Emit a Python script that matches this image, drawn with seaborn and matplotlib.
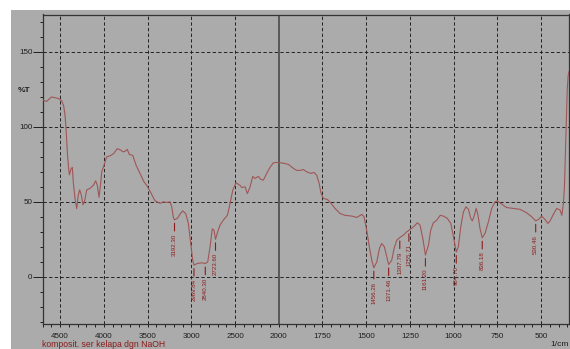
import numpy as np
import pandas as pd
import matplotlib
matplotlib.use("Agg")
import matplotlib.pyplot as plt
from matplotlib.patches import Rectangle
import seaborn as sns

# FTIR spectrum: wavenumber (1/cm) and transmittance (%T)
wavenumber = [
    4700, 4654, 4620, 4597, 4560, 4522, 4483, 4460, 4445, 4433, 4418, 4405,
    4395, 4376, 4361, 4350, 4330, 4311, 4293, 4277, 4258, 4239, 4219, 4196,
    4159, 4121, 4094, 4075, 4056, 4036, 4025, 4007, 3968, 3930, 3892, 3846,
    3808, 3778, 3750, 3732, 3709, 3670, 3632, 3587, 3541, 3510, 3472, 3415,
    3358, 3320, 3281, 3244, 3224, 3205, 3192.30, 3160, 3129, 3098, 3064, 3034,
    3007, 2984, 2969.84, 2931, 2881, 2860, 2840.30, 2812, 2786, 2760, 2740,
    2723.60, 2698, 2672, 2634, 2588, 2565, 2526, 2489, 2443, 2423, 2400, 2385,
    2359, 2328, 2297, 2271, 2233, 2206, 2176, 2137, 2100, 2062, 2030, 2005,
    1974, 1945, 1916, 1897, 1874, 1859, 1840, 1817, 1798, 1783, 1769, 1758,
    1745, 1722, 1703, 1678, 1649, 1621, 1582, 1554, 1525, 1512, 1497, 1482,
    1468, 1456.26, 1439, 1424, 1411, 1396, 1382, 1371.46, 1354, 1340, 1325,
    1307.79, 1287, 1268, 1255.71, 1230, 1207, 1192, 1176, 1161.20, 1144, 1131,
    1116, 1096, 1077, 1058, 1036, 1016, 1001, 984.70, 973, 959, 944, 929, 915,
    902, 893, 881, 871, 862, 849, 836.18, 820, 801, 782, 763, 750, 725, 697,
    658, 620, 582, 553, 530.46, 515, 496, 477, 461, 448, 429, 410, 391, 381,
    372, 366, 360, 355, 350, 345, 340,
]
transmittance = [
    118, 117, 119, 120, 119.5, 119, 117.5, 114, 108, 99, 83, 73,
    68, 72, 73, 63, 52, 45.5, 54.5, 58, 54.5, 48, 51, 58,
    59, 61, 64, 61, 53, 63, 70, 73, 80, 80.7, 82, 85.5,
    84.5, 83.3, 84, 85, 81.6, 81, 74.5, 69, 63.3, 61, 57, 50.7,
    49, 50, 49.6, 50, 46.7, 39.5, 38, 39, 41.8, 44, 42.2, 35.6,
    22.2, 11, 7.8, 8.9, 9.3, 9.2, 8.8, 10, 20, 32, 31,
    25, 30, 34.5, 37.8, 41, 46.7, 57.8, 62.7, 61, 59.6, 59.8, 60,
    55.5, 60, 67, 65.6, 67, 65, 64.5, 69, 73, 76, 76.3, 76.2,
    75.8, 75, 72.3, 71, 71, 71.6, 70, 69, 69.6, 67.8, 62.3, 55.6,
    52.3, 51.6, 49.3, 45.6, 42.2, 41, 40.5, 39.6, 41.6, 40, 31, 20,
    11, 6, 10, 19, 22.2, 20, 13.3, 8.2, 11, 19, 24.4,
    26.2, 27.8, 30, 31, 33.3, 36, 34.5, 25.6, 14.5, 21, 31,
    36, 37.8, 41, 40.5, 39, 35.6, 26.7, 16.5, 20, 33.3, 43.3, 46.7, 45,
    39, 37.3, 41, 45.6, 42.2, 32.2, 26, 29, 36.7, 45.6, 50, 50.7, 48.5, 46.2,
    45.6, 45, 42.7, 40, 37.3, 38.2, 40.5, 38.2, 35.6, 37.3, 41.8, 45.6, 44.5, 41,
    49, 60, 85, 105, 125, 134, 137,
]

# Peak annotations
peak_labels = ["3192.30", "2969.84", "2840.30", "2723.60", "1456.26", "1371.46",
               "1307.79", "1255.71", "1161.20", "984.70", "836.18", "530.46"]
peak_positions = [3192.30, 2969.84, 2840.30, 2723.60, 1456.26, 1371.46,
                  1307.79, 1255.71, 1161.20, 984.70, 836.18, 530.46]

x_ticks = [4500, 4000, 3500, 3000, 2500, 2000, 1750, 1500, 1250, 1000, 750, 500]
x_tick_labels = ["4500", "4000", "3500", "3000", "2500", "2000",
                 "1750", "1500", "1250", "1000", "750", "500"]
y_ticks = [150, 100, 50, 0]
y_tick_labels = ["150", "100", "50", "0"]

sample_name = "komposit. ser kelapa dgn NaOH"

BG = "#ababab"
LINE = "#a05656"
LABEL_RED = "#8c1c1c"
DARK = "#1e1e1e"

plt.rcParams["font.family"] = ["Liberation Sans", "DejaVu Sans"]


# Below 2000 1/cm the wavenumber axis is stretched by a factor of two
def fwd(x):
    x = np.asarray(x, dtype=float)
    return np.where(x >= 2000, x, 2 * x - 2000)


def inv(u):
    u = np.asarray(u, dtype=float)
    return np.where(u >= 2000, u, (u + 2000) / 2)


W, H = 570, 349
fig = plt.figure(figsize=(W / 100, H / 100), dpi=100, facecolor="white")
fig.patches.append(Rectangle((11 / W, 0), 1, 1 - 10 / H, transform=fig.transFigure,
                             facecolor=BG, edgecolor="none", zorder=-10))

left, right, top, bottom = 42.7, 569, 14.5, 324
ax = fig.add_axes([left / W, 1 - bottom / H, (right - left) / W, (bottom - top) / H])
ax.set_facecolor(BG)

df = pd.DataFrame({"wavenumber": wavenumber, "T": transmittance})
sns.lineplot(data=df, x="wavenumber", y="T", ax=ax, color=LINE, lw=0.8,
             estimator=None, sort=False, zorder=5)

ax.set_xscale("function", functions=(fwd, inv))
ax.set_xlim(4700, 340)
ax.set_ylim(-31.5, 175)
ax.set_xlabel("")
ax.set_ylabel("")

# grid
dash = (0, (3.4, 2.4))
for xv in x_ticks:
    if xv == 2000:
        ax.axvline(xv, color="#4a4a4a", lw=1.2, zorder=2)
    else:
        ax.axvline(xv, color="#222222", lw=0.7, ls=dash, zorder=2)
for yv in y_ticks:
    ax.axhline(yv, color="#222222", lw=0.7, ls=dash, zorder=2)

# ticks
ax.set_xticks(x_ticks)
ax.set_xticklabels(x_tick_labels)
minor_x = [v for v in range(4700, 2000, -100) if v not in x_ticks] + \
          [v for v in range(1950, 340, -50) if v not in x_ticks]
ax.set_xticks(minor_x, minor=True)
ax.set_yticks(y_ticks)
ax.set_yticklabels(y_tick_labels)
ax.set_yticks([v for v in range(-30, 175, 10) if v not in y_ticks], minor=True)

ax.tick_params(axis="x", which="both", direction="out", length=2.3, width=0.7,
               color=DARK, labelsize=5.8, labelcolor=DARK, pad=4)
ax.tick_params(axis="y", which="major", direction="out", length=7, width=0.7,
               color=DARK, labelsize=5.8, labelcolor=DARK, pad=0.3)
ax.tick_params(axis="y", which="minor", direction="out", length=2.4, width=0.7,
               color=DARK)
for s in ax.spines.values():
    s.set_color("#333333")
    s.set_linewidth(0.9)

# peak labels
wn_arr = np.array(wavenumber)[::-1]
t_arr = np.array(transmittance)[::-1]
for lab, pos in zip(peak_labels, peak_positions):
    t = np.interp(pos, wn_arr, t_arr)
    ax.annotate(lab, xy=(pos, t), xytext=(0, -10), textcoords="offset points",
                rotation=90, ha="center", va="top", fontsize=4.4, color=LABEL_RED,
                zorder=6,
                arrowprops=dict(arrowstyle="-", color=LABEL_RED, lw=0.8,
                                shrinkA=0, shrinkB=2.5))

fig.text(18 / W, 1 - 90 / H, "%T", fontsize=6, color=DARK, fontweight="bold",
         va="center", ha="left")
fig.text(569 / W, 1 - 344 / H, "1/cm", fontsize=6, color=DARK, va="center", ha="right")
fig.text(42.5 / W, 1 - 344.5 / H, sample_name, fontsize=6.2, color=LABEL_RED,
         va="center", ha="left")

fig.savefig("out.png", dpi=100, facecolor=fig.get_facecolor())
